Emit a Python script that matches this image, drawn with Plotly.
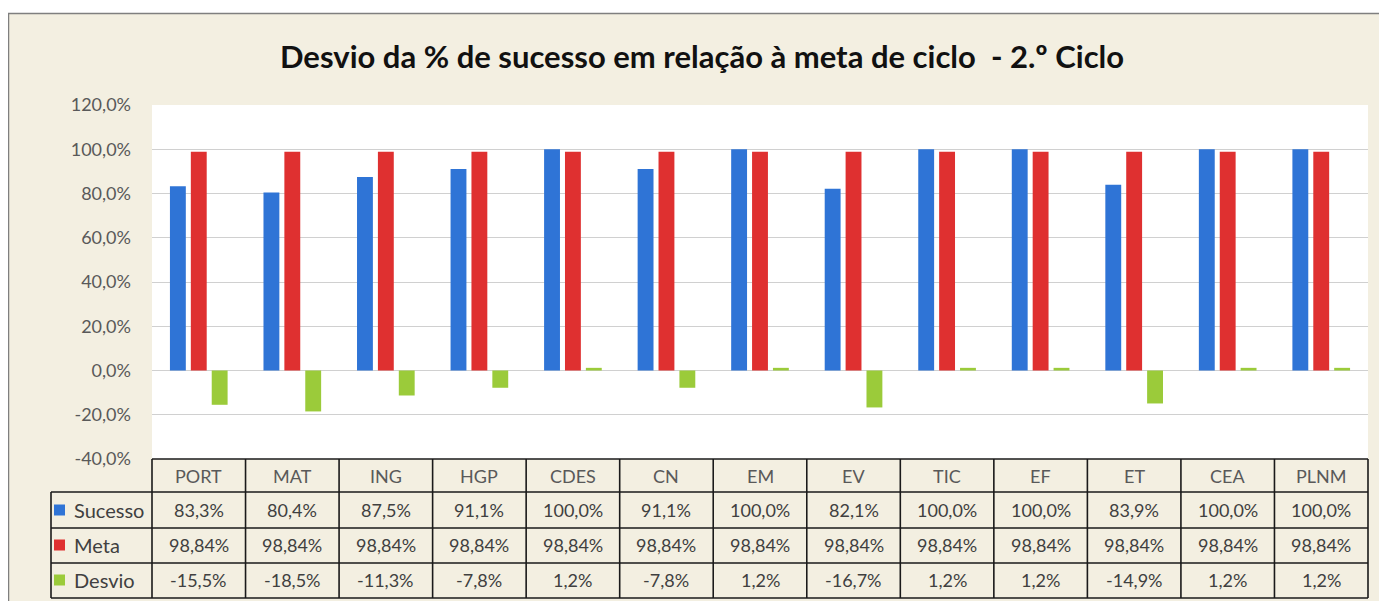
import plotly.graph_objects as go

categories = ["PORT", "MAT", "ING", "HGP", "CDES", "CN", "EM", "EV", "TIC", "EF", "ET", "CEA", "PLNM"]
sucesso = [83.3, 80.4, 87.5, 91.1, 100.0, 91.1, 100.0, 82.1, 100.0, 100.0, 83.9, 100.0, 100.0]
meta = [98.84] * 13
desvio = [-15.5, -18.5, -11.3, -7.8, 1.2, -7.8, 1.2, -16.7, 1.2, 1.2, -14.9, 1.2, 1.2]
series_names = ["Sucesso", "Meta", "Desvio"]
series_decimals = [1, 2, 1]
y_ticks = [-40, -20, 0, 20, 40, 60, 80, 100, 120]
title = "Desvio da % de sucesso em relação à meta de ciclo  - 2.º Ciclo"

colors = ["#2F74D6", "#DF3030", "#9BCB3A"]
beige = "#F3EFE1"
FONT = "Lato"
OX, OY = 8, 8  # page body margin
W, H = 1387 - OX, 601 - OY
L, R, T, B = 152, 1368, 105, 459  # screen pixel positions of plot area


def px(x):
    return (x - L) / (R - L)


def py(y):
    return (B - y) / (B - T)


def fmt(v, d):
    return f"{v:.{d}f}".replace(".", ",") + "%"


fig = go.Figure()
for name, vals, c in zip(series_names, [sucesso, meta, desvio], colors):
    fig.add_trace(go.Bar(x=categories, y=vals, name=name, marker_color=c,
                         marker_line_width=0, showlegend=False))

shapes = []
annotations = []
shapes.append(dict(type="rect", xref="paper", yref="paper", x0=px(8.5), x1=px(1400), y0=py(13.5), y1=py(620),
                   fillcolor=beige, line=dict(color="#7F7F7F", width=1.5), layer="below"))
shapes.append(dict(type="rect", xref="paper", yref="paper", x0=0, x1=1, y0=0, y1=1,
                   fillcolor="white", line=dict(width=0), layer="below"))

n = len(categories)
cw = (R - L) / n
rows_y = [459, 492, 528, 563, 598]
line_style = dict(color="#1a1a1a", width=1.6)
shapes.append(dict(type="line", xref="paper", yref="paper", x0=px(L), x1=px(R), y0=py(rows_y[0]), y1=py(rows_y[0]), line=line_style))
for yy in rows_y[1:]:
    shapes.append(dict(type="line", xref="paper", yref="paper", x0=px(51), x1=px(R), y0=py(yy), y1=py(yy), line=line_style))
for i in range(n + 1):
    xx = L + i * cw
    shapes.append(dict(type="line", xref="paper", yref="paper", x0=px(xx), x1=px(xx), y0=py(459), y1=py(598), line=line_style))
shapes.append(dict(type="line", xref="paper", yref="paper", x0=px(51), x1=px(51), y0=py(492), y1=py(598), line=line_style))

for i, cat in enumerate(categories):
    annotations.append(dict(x=px(L + (i + 0.5) * cw), y=py(476), xref="paper", yref="paper", text=cat,
                            showarrow=False, font=dict(size=18, color="#595959", family=FONT),
                            xanchor="center", yanchor="middle"))
row_centers = [510, 545, 580]
for r, (name, vals, d, c) in enumerate(zip(series_names, [sucesso, meta, desvio], series_decimals, colors)):
    yc = row_centers[r]
    shapes.append(dict(type="rect", xref="paper", yref="paper", x0=px(54), x1=px(65), y0=py(yc - 5.5), y1=py(yc + 5.5),
                       fillcolor=c, line=dict(width=0)))
    annotations.append(dict(x=px(72), y=py(yc), xref="paper", yref="paper", text=name, showarrow=False,
                            font=dict(size=20, color="#404040", family=FONT), xanchor="left", yanchor="middle"))
    for i, v in enumerate(vals):
        annotations.append(dict(x=px(L + (i + 0.5) * cw), y=py(yc), xref="paper", yref="paper", text=fmt(v, d),
                                showarrow=False, font=dict(size=18, color="#404040", family=FONT),
                                xanchor="center", yanchor="middle"))

annotations.append(dict(x=px(702), y=py(56), xref="paper", yref="paper", text="<b>" + title + "</b>",
                        showarrow=False, font=dict(size=31, color="#111111", family=FONT),
                        xanchor="center", yanchor="middle"))

fig.update_layout(
    width=W, height=H,
    margin=dict(l=L - OX, r=W + OX - R, t=T - OY, b=H + OY - B),
    paper_bgcolor="white", plot_bgcolor="rgba(0,0,0,0)",
    barmode="group", bargap=0.33, bargroupgap=0.24,
    shapes=shapes, annotations=annotations,
    font=dict(family=FONT),
)
fig.update_xaxes(showticklabels=False, showgrid=False, zeroline=False, showline=False)
fig.update_yaxes(range=[-40, 120], tickvals=y_ticks, ticktext=[fmt(v, 1) for v in y_ticks],
                 showgrid=True, gridcolor="#D0D0D0", gridwidth=1, zeroline=True, zerolinecolor="#D0D0D0",
                 zerolinewidth=1, tickfont=dict(size=18, color="#595959", family=FONT),
                 ticklabelstandoff=20, showline=False)

fig.write_html("out.html")
